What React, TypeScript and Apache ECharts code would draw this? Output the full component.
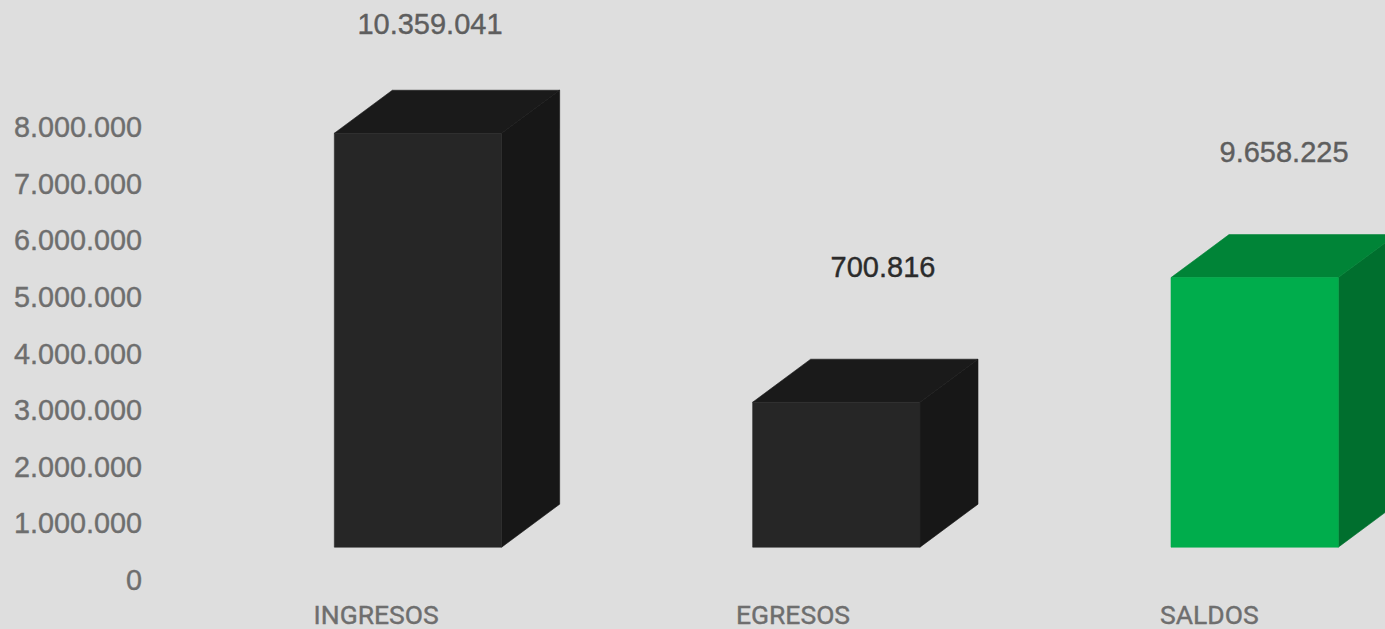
import React, { useEffect, useRef } from "react";
import * as echarts from "echarts";

const categories = ["INGRESOS", "EGRESOS", "SALDOS"];
const barBase = [580000, 580000, 580000];
const barTop = [7890000, 3140000, 5340000];
const valueLabels = ["10.359.041", "700.816", "9.658.225"];
const valueLabelColors = ["#5e5e5e", "#2b2b2b", "#5e5e5e"];
const valueLabelX = [430, 883, 1284];
const valueLabelY = [24, 267, 152];
const frontColors = ["#262626", "#262626", "#00ad4c"];
const topColors = ["#1a1a1a", "#1a1a1a", "#008437"];
const sideColors = ["#171717", "#171717", "#006f2e"];

const dots = (v: number) => String(v).replace(/\B(?=(\d{3})+(?!\d))/g, ".");

export default function App() {
  const ref = useRef<HTMLDivElement>(null);
  useEffect(() => {
    document.body.style.margin = "0";
    document.body.style.overflow = "hidden";
    const chart = echarts.init(ref.current!, null, { renderer: "svg" });
    chart.setOption({
      animation: false,
      backgroundColor: "#dedede",
      textStyle: { fontFamily: "Liberation Sans" },
      grid: { left: 167, right: 0, top: 127, bottom: 49, containLabel: false },
      xAxis: {
        type: "category",
        data: categories,
        axisLine: { show: false },
        axisTick: { show: false },
        splitLine: { show: false },
        axisLabel: {
          color: "#6e6e6e",
          fontSize: 26.5,
          fontFamily: "Roboto",
          margin: 21,
          interval: 0,
          textBorderColor: "#6e6e6e",
          textBorderWidth: 0.4,
          formatter: (v: string) => (v === "EGRESOS" ? `{b|${v}}` : v === "SALDOS" ? `{c|${v}}` : v),
          rich: {
            b: { padding: [0, 3, 0, 0] },
            c: { padding: [0, 7, 0, 0] },
          },
        },
      },
      yAxis: {
        type: "value",
        min: 0,
        max: 8000000,
        interval: 1000000,
        axisLine: { show: false },
        axisTick: { show: false },
        splitLine: { show: false },
        axisLabel: {
          color: "#6e6e6e",
          fontSize: 28.8,
          fontFamily: "Liberation Sans",
          margin: 25,
          textBorderColor: "#6e6e6e",
          textBorderWidth: 0.4,
          formatter: (v: number) => dots(v),
        },
      },
      series: [
        {
          type: "custom",
          clip: false,
          data: categories.map((_, i) => [i, barBase[i], barTop[i]]),
          encode: { x: 0, y: [1, 2] },
          renderItem: (params: any, api: any) => {
            const i = params.dataIndex;
            const band = api.size([1, 0])[0];
            const [cx, yBase] = api.coord([api.value(0), api.value(1)]);
            const [, yTop] = api.coord([api.value(0), api.value(2)]);
            const w = band * 0.4;
            const x0 = cx + band * 0.1 - w / 2;
            const x1 = x0 + w;
            const dx = 58;
            const dy = 43;
            return {
              type: "group",
              children: [
                {
                  type: "polygon",
                  shape: { points: [[x1, yTop], [x1 + dx, yTop - dy], [x1 + dx, yBase - dy], [x1, yBase]] },
                  style: { fill: sideColors[i], stroke: sideColors[i], lineWidth: 0.6 },
                },
                {
                  type: "polygon",
                  shape: { points: [[x0, yTop], [x0 + dx, yTop - dy], [x1 + dx, yTop - dy], [x1, yTop]] },
                  style: { fill: topColors[i], stroke: topColors[i], lineWidth: 0.6 },
                },
                {
                  type: "rect",
                  shape: { x: x0, y: yTop, width: w, height: yBase - yTop },
                  style: { fill: frontColors[i], stroke: frontColors[i], lineWidth: 0.6 },
                },
              ],
            };
          },
        },
      ],
      graphic: valueLabels.map((t, i) => ({
        type: "text",
        x: valueLabelX[i],
        y: valueLabelY[i],
        style: {
          text: t,
          fill: valueLabelColors[i],
          stroke: valueLabelColors[i],
          lineWidth: 0.4,
          fontSize: 29,
          fontFamily: "Liberation Sans",
          align: "center",
          verticalAlign: "middle",
        },
      })),
    });
    return () => chart.dispose();
  }, []);
  return (
    <div style={{ position: "fixed", left: 0, top: 0, width: 1385, height: 629, overflow: "hidden" }}>
      <div ref={ref} style={{ width: 1422, height: 629 }} />
    </div>
  );
}
